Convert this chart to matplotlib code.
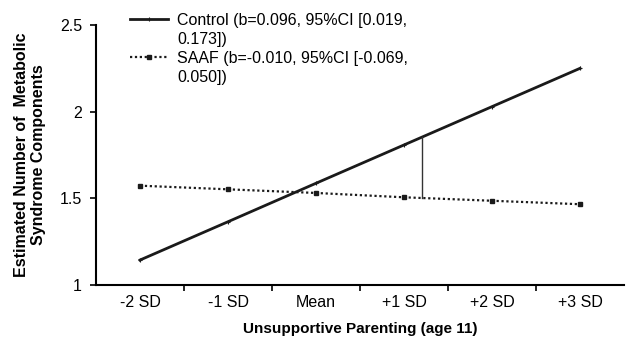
import matplotlib.pyplot as plt
from matplotlib.lines import Line2D

plt.rcParams['font.family'] = ['Liberation Sans', 'DejaVu Sans']

categories = ['-2 SD', '-1 SD', 'Mean', '+1 SD', '+2 SD', '+3 SD']
control = [1.144, 1.365, 1.587, 1.808, 2.029, 2.250]
saaf = [1.573, 1.552, 1.531, 1.506, 1.486, 1.466]
control_label = 'Control (b=0.096, 95%CI [0.019,\n0.173])'
saaf_label = 'SAAF (b=-0.010, 95%CI [-0.069,\n0.050])'
# region of significance marker
sig_x = 3.2

W, H = 632, 343
fig = plt.figure(figsize=(W / 100, H / 100), dpi=100)
ax = fig.add_axes([96 / W, 1 - 285 / H, 528 / W, 260 / H])

x = range(len(categories))
ctrl_style = dict(color='#1a1a1a', linewidth=2, marker='+', markersize=3, markeredgewidth=0.8)
saaf_style = dict(color='#1a1a1a', linewidth=1.6, linestyle=(0, (1, 1.2)),
                  marker='s', markersize=2.5)
ax.plot(x, control, **ctrl_style)
ax.plot(x, saaf, **saaf_style)

# vertical line between the two regression lines
c_at = control[3] + (control[4] - control[3]) * (sig_x - 3)
s_at = saaf[3] + (saaf[4] - saaf[3]) * (sig_x - 3)
ax.plot([sig_x, sig_x], [s_at, c_at], color='#333333', linewidth=1)

ax.set_xlim(-0.5, 5.5)
ax.set_ylim(1, 2.5)
ax.set_yticks([1, 1.5, 2, 2.5])
ax.set_yticklabels(['1', '1.5', '2', '2.5'])
ax.set_xticks(list(x))
ax.set_xticklabels(categories)
ax.set_xticks([i + 0.5 for i in range(5)], minor=True)
ax.tick_params(axis='x', which='major', length=0, labelsize=11.5, pad=7)
ax.tick_params(axis='x', which='minor', length=4, width=1.2, direction='out')
ax.tick_params(axis='y', length=4, width=1.2, labelsize=11.5, pad=6)

for s in ['top', 'right']:
    ax.spines[s].set_visible(False)
ax.spines['left'].set_linewidth(1.5)
ax.spines['bottom'].set_linewidth(1.5)

ax.set_xlabel('Unsupportive Parenting (age 11)', fontsize=11, fontweight='bold', labelpad=9)
ax.set_ylabel('Estimated Number of  Metabolic\nSyndrome Components', fontsize=11.5,
              fontweight='bold', labelpad=10)

# legend drawn by hand so the handle sits on the first text line
for label, style, ypix in [(control_label, ctrl_style, 19), (saaf_label, saaf_style, 57)]:
    yf = 1 - ypix / H
    fig.add_artist(Line2D([130 / W, 149 / W, 168 / W], [yf, yf, yf], markevery=[1],
                          transform=fig.transFigure, **style))
    fig.text(177 / W, yf + 6.5 / H, label, fontsize=11.5, va='top', ha='left',
             linespacing=1.4, transform=fig.transFigure)

fig.savefig('out.png', dpi=100)
